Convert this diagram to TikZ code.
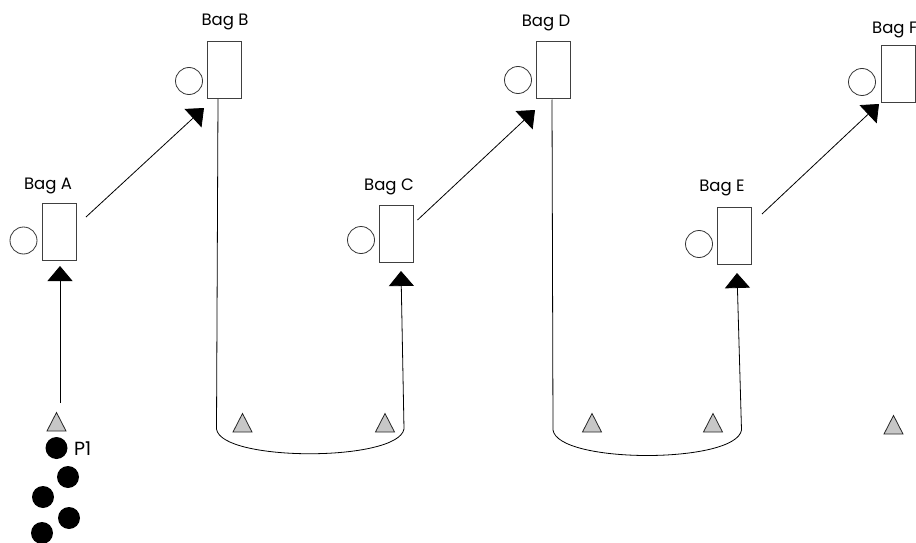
\documentclass[tikz,border=0pt]{standalone}
\usepackage{fontspec}
\setmainfont{Poppins}
\usetikzlibrary{arrows.meta}
\tikzset{
  bag/.style={draw=black!75, line width=0.8pt, minimum width=34pt, minimum height=57pt, inner sep=0pt},
  ring/.style={draw=black!80, line width=0.8pt, circle, minimum size=27pt, inner sep=0pt},
  lbl/.style={font=\fontsize{16.5}{18}\selectfont, inner sep=0pt},
  cone/.style={draw=black!85, fill=black!22, line width=0.8pt, line join=miter},
  ball/.style={fill=black, circle, minimum size=22pt, inner sep=0pt},
  conn/.style={draw=black, line width=0.8pt, -{Triangle[width=25pt,length=15pt]}},
}
\begin{document}
\begin{tikzpicture}[x=1pt,y=-1pt]
\useasboundingbox (0,0) rectangle (916,543);
% bags
\node[bag] (bagA) at (59,232) {};
\node[bag] (bagB) at (224,70) {};
\node[bag] (bagC) at (396.5,233.5) {};
\node[bag] (bagD) at (553.5,70) {};
\node[bag] (bagE) at (734,235.5) {};
\node[bag] (bagF) at (898,73.5) {};
% circles
\node[ring] (cA) at (23.5,240.5) {};
\node[ring] (cB) at (189,81) {};
\node[ring] (cC) at (361,240) {};
\node[ring] (cD) at (518,80) {};
\node[ring] (cE) at (699,244) {};
\node[ring] (cF) at (862,82) {};
% labels
\node[lbl] (lA) at (48,186) {Bag A};
\node[lbl] (lB) at (225,22) {Bag B};
\node[lbl] (lC) at (389,187) {Bag C};
\node[lbl] (lD) at (546,23) {Bag D};
\node[lbl] (lE) at (722,188) {Bag E};
\node[lbl, anchor=west] (lF) at (872,30) {Bag F};
% gray cones
\foreach \n/\x/\y in {t1/56.5/422, t2/242.5/423, t3/385/423, t4/592/423, t5/713/423, t6/893.5/425}{
  \draw[cone] (\x-9.5,\y+9) -- (\x,\y-9.5) -- (\x+9.5,\y+9) -- cycle;
  \coordinate (\n) at (\x,\y);
}
% players
\node[ball] (p1) at (56.5,448) {};
\node[ball] (p2) at (68,477) {};
\node[ball] (p3) at (43,497) {};
\node[ball] (p4) at (69,518) {};
\node[ball] (p5) at (42,533) {};
\node[font=\fontsize{19}{21}\selectfont, anchor=west, inner sep=0pt] (pl) at (74,449) {P1};
% connectors
\coordinate (s0) at (60,403);
\draw[conn] (s0) -- (60,266);
\coordinate (a1) at (86,217);
\coordinate (b1) at (204,108);
\draw[conn] (a1) -- (b1);
\coordinate (a2) at (417.5,220);
\coordinate (b2) at (535,110);
\draw[conn] (a2) -- (b2);
\coordinate (a3) at (762,214);
\coordinate (b3) at (879,104);
\draw[conn] (a3) -- (b3);
% long loops
\coordinate (u1) at (218,99);
\coordinate (v1) at (401,271);
\draw[conn] (u1) -- (216.5,429) .. controls (221,462) and (398,462) .. (404,429) -- (v1);
\coordinate (u2) at (552,99.5);
\coordinate (v2) at (737,273);
\draw[conn] (u2) -- (553,430) .. controls (558,464) and (736,464) .. (741.5,430) -- (v2);
\end{tikzpicture}
\end{document}
